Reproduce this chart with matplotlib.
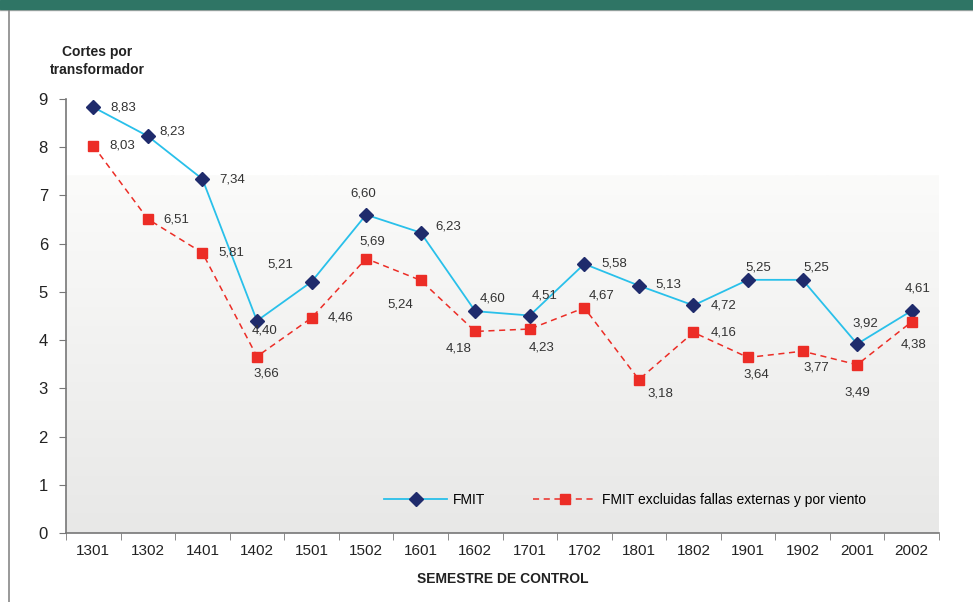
import numpy as np
import matplotlib.pyplot as plt
from matplotlib.patches import Rectangle
from matplotlib.lines import Line2D

plt.rcParams['font.family'] = ['Liberation Sans', 'DejaVu Sans']

semesters = ['1301', '1302', '1401', '1402', '1501', '1502', '1601', '1602',
             '1701', '1702', '1801', '1802', '1901', '1902', '2001', '2002']
fmit = [8.83, 8.23, 7.34, 4.40, 5.21, 6.60, 6.23, 4.60,
        4.51, 5.58, 5.13, 4.72, 5.25, 5.25, 3.92, 4.61]
fmit_excl = [8.03, 6.51, 5.81, 3.66, 4.46, 5.69, 5.24, 4.18,
             4.23, 4.67, 3.18, 4.16, 3.64, 3.77, 3.49, 4.38]

# label offsets in pixels (dx, dy), dy positive = up
fmit_off = [(30, 0), (24, 5), (30, 0), (8, -10), (-31, 17), (-3, 21), (28, 6), (17, 13),
            (15, 20), (30, 0), (29, 1), (30, 0), (10, 12), (14, 12), (8, 20), (6, 22)]
excl_off = [(29, 0), (28, 0), (29, 0), (9, -17), (29, 0), (6, 17), (-20, -24), (-17, -17),
            (12, -18), (17, 12), (21, -14), (30, 0), (8, -17), (14, -16), (0, -28), (2, -23)]

CYAN = '#29c0ea'
NAVY = '#1f2b6c'
RED = '#ec2d26'

fig = plt.figure(figsize=(9.73, 6.02), dpi=100)
ax = fig.add_axes([66 / 973, 1 - 533 / 602, (939 - 66) / 973, (533 - 99) / 602])

x = np.arange(len(semesters))

# gradient background
grad = np.linspace(0, 1, 256).reshape(-1, 1)
cmap = plt.matplotlib.colors.LinearSegmentedColormap.from_list('g', ['#e8e8e7', '#fbfbfa'])
ax.imshow(grad, extent=[-0.5, len(semesters) - 0.5, 0, 7.42], origin='lower',
          aspect='auto', cmap=cmap, zorder=0)

ax.plot(x, fmit, color=CYAN, lw=1.3, marker='D', ms=7, mfc=NAVY, mec=NAVY, zorder=3)
ax.plot(x, fmit_excl, color=RED, lw=1.1, ls=(0, (4, 3)), marker='s', ms=7,
        mfc=RED, mec=RED, zorder=3)

for xi, v, (dx, dy) in zip(x, fmit, fmit_off):
    ax.annotate(f'{v:.2f}'.replace('.', ','), (xi, v), xytext=(dx * 0.72, dy * 0.72),
                textcoords='offset points', ha='center', va='center',
                fontsize=9.5, color='#333333')
for xi, v, (dx, dy) in zip(x, fmit_excl, excl_off):
    ax.annotate(f'{v:.2f}'.replace('.', ','), (xi, v), xytext=(dx * 0.72, dy * 0.72),
                textcoords='offset points', ha='center', va='center',
                fontsize=9.5, color='#333333')

ax.set_xlim(-0.5, len(semesters) - 0.5)
ax.set_ylim(0, 9)
ax.set_yticks(range(10))
ax.set_xticks(x)
ax.set_xticklabels(semesters)
ax.set_xticks(np.arange(-0.5, len(semesters)), minor=True)
ax.tick_params(axis='x', which='major', length=0, labelsize=11, pad=8, colors='#222222')
ax.tick_params(axis='x', which='minor', length=5, color='#777777')
ax.tick_params(axis='y', length=5, color='#777777', labelsize=12, labelcolor='#222222', pad=8)
for s in ['top', 'right']:
    ax.spines[s].set_visible(False)
for s in ['left', 'bottom']:
    ax.spines[s].set_color('#777777')
    ax.spines[s].set_linewidth(1.2)
ax.set_facecolor('none')

ax.set_xlabel('SEMESTRE DE CONTROL', fontsize=10, fontweight='bold', color='#222222',
              labelpad=10)
fig.text(97 / 973, 1 - 61 / 602, 'Cortes por\ntransformador', ha='center', va='center',
         fontsize=10, fontweight='bold', color='#222222', linespacing=1.4)

handles = [
    Line2D([], [], color=CYAN, lw=1.3, marker='D', ms=7, mfc=NAVY, mec=NAVY),
    Line2D([], [], color=RED, lw=1.1, ls=(0, (4, 3)), marker='s', ms=7, mfc=RED, mec=RED),
]
ax.legend(handles, ['FMIT', 'FMIT excluidas fallas externas y por viento'], ncol=2,
          frameon=False, fontsize=10, loc='center', bbox_to_anchor=(625 / 973, 1 - 500 / 602),
          bbox_transform=fig.transFigure, columnspacing=3.5, handlelength=4.5,
          handletextpad=0.4)

# frame decorations
fig.patches.append(Rectangle((0, 1 - 9 / 602), 1, 9 / 602, transform=fig.transFigure,
                             color='#2f7565', zorder=5))
fig.lines.append(Line2D([0, 1], [1 - 10 / 602, 1 - 10 / 602], transform=fig.transFigure,
                        color='#aaaaaa', lw=1))
fig.lines.append(Line2D([8.5 / 973, 8.5 / 973], [0, 1 - 10 / 602], transform=fig.transFigure,
                        color='#888888', lw=1.2))

fig.savefig('out.png', dpi=100)
